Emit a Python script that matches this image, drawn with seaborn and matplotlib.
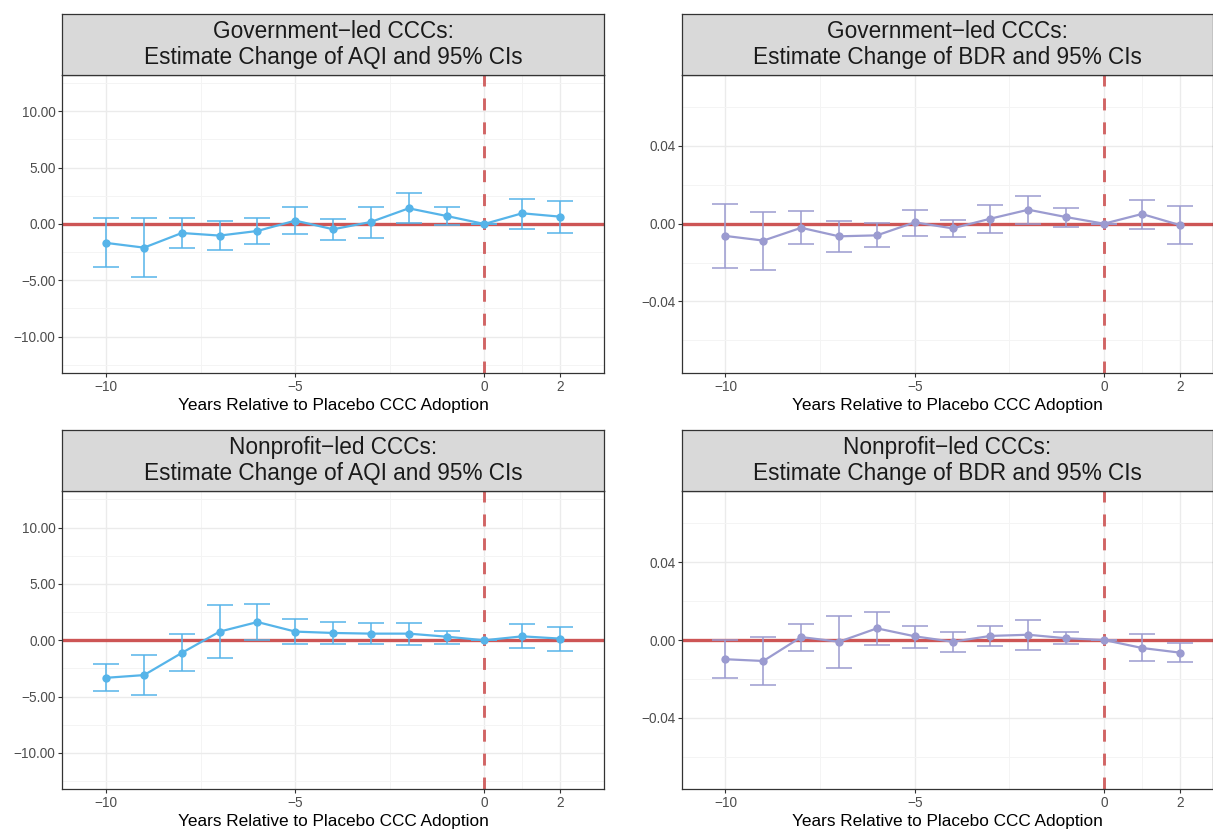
import numpy as np
import pandas as pd
import matplotlib
matplotlib.use("Agg")
import matplotlib.pyplot as plt
from matplotlib.ticker import FixedLocator, FixedFormatter
import seaborn as sns

# Event-time grid
years = [-10, -9, -8, -7, -6, -5, -4, -3, -2, -1, 0, 1, 2]

# Government-led CCCs: AQI
gov_aqi_est = [-1.68, -2.10, -0.80, -1.03, -0.62, 0.30, -0.47, 0.18, 1.39, 0.71, 0.00, 0.95, 0.65]
gov_aqi_lo = [-3.84, -4.70, -2.13, -2.33, -1.80, -0.92, -1.39, -1.21, 0.06, -0.06, 0.00, -0.41, -0.77]
gov_aqi_hi = [0.50, 0.50, 0.53, 0.30, 0.56, 1.51, 0.47, 1.51, 2.72, 1.48, 0.00, 2.25, 2.07]

# Government-led CCCs: BDR
gov_bdr_est = [-0.0063, -0.0087, -0.0021, -0.0065, -0.0060, 0.0007, -0.0024, 0.0026, 0.0072, 0.0034, 0.0000, 0.0050, -0.0007]
gov_bdr_lo = [-0.0226, -0.0236, -0.0106, -0.0146, -0.0122, -0.0065, -0.0070, -0.0046, -0.0002, -0.0015, 0.0000, -0.0026, -0.0103]
gov_bdr_hi = [0.0103, 0.0060, 0.0063, 0.0015, 0.0002, 0.0072, 0.0017, 0.0096, 0.0144, 0.0082, 0.0000, 0.0122, 0.0089]

# Nonprofit-led CCCs: AQI
npo_aqi_est = [-3.33, -3.09, -1.12, 0.77, 1.62, 0.77, 0.65, 0.59, 0.59, 0.32, 0.00, 0.35, 0.15]
npo_aqi_lo = [-4.54, -4.86, -2.77, -1.56, 0.00, -0.32, -0.29, -0.35, -0.44, -0.29, 0.00, -0.71, -0.91]
npo_aqi_hi = [-2.09, -1.30, 0.53, 3.12, 3.24, 1.86, 1.59, 1.50, 1.56, 0.85, 0.00, 1.41, 1.21]

# Nonprofit-led CCCs: BDR
npo_bdr_est = [-0.0099, -0.0108, 0.0015, -0.0009, 0.0060, 0.0019, -0.0009, 0.0021, 0.0027, 0.0009, 0.0000, -0.0041, -0.0065]
npo_bdr_lo = [-0.0194, -0.0230, -0.0055, -0.0144, -0.0027, -0.0039, -0.0062, -0.0033, -0.0050, -0.0022, 0.0000, -0.0110, -0.0115]
npo_bdr_hi = [0.0000, 0.0015, 0.0081, 0.0125, 0.0144, 0.0074, 0.0043, 0.0074, 0.0104, 0.0039, 0.0000, 0.0031, -0.0014]

# Axis breaks and labels
x_breaks = [-10, -5, 0, 2]
x_minor = [-12.5, -7.5, -2.5, 1]
aqi_breaks = [-10.0, -5.0, 0.0, 5.0, 10.0]
aqi_minor = [-12.5, -7.5, -2.5, 2.5, 7.5, 12.5]
bdr_breaks = [-0.04, 0.0, 0.04]
bdr_minor = [-0.06, -0.02, 0.02, 0.06]

panel_titles = [
    "Government\u2212led CCCs:\nEstimate Change of AQI and 95% CIs",
    "Government\u2212led CCCs:\nEstimate Change of BDR and 95% CIs",
    "Nonprofit\u2212led CCCs:\nEstimate Change of AQI and 95% CIs",
    "Nonprofit\u2212led CCCs:\nEstimate Change of BDR and 95% CIs",
]
x_title = "Years Relative to Placebo CCC Adoption"

AQI_COLOR = "#56B4E9"
BDR_COLOR = "#9B9BD0"
REF_COLOR = "#CD5555"
FRAME = "#333333"

sns.set_theme(style="white")
plt.rcParams["font.family"] = ["Liberation Sans", "DejaVu Sans"]

W, H = 1213, 831
fig = plt.figure(figsize=(W / 100, H / 100), dpi=100)


def frac(left, top, right, bottom):
    return [left / W, 1 - bottom / H, (right - left) / W, (bottom - top) / H]


def fmt_tick(v, digits):
    s = f"{v:.{digits}f}"
    return s.replace("-", "\u2212")


panels = [
    # (title, est, lo, hi, color, y breaks, y minor, digits, ylim, xlim, box, strip)
    (panel_titles[0], gov_aqi_est, gov_aqi_lo, gov_aqi_hi, AQI_COLOR, aqi_breaks, aqi_minor, 2,
     (-13.2, 13.25), (-11.16, 3.16), (62.3, 74.7, 603.9, 372.7), (14, 74.7)),
    (panel_titles[1], gov_bdr_est, gov_bdr_lo, gov_bdr_hi, BDR_COLOR, bdr_breaks, bdr_minor, 2,
     (-0.0767, 0.0767), (-11.14, 2.87), (682.3, 74.7, 1212.7, 372.7), (14, 74.7)),
    (panel_titles[2], npo_aqi_est, npo_aqi_lo, npo_aqi_hi, AQI_COLOR, aqi_breaks, aqi_minor, 2,
     (-13.2, 13.25), (-11.16, 3.16), (62.3, 491, 603.9, 789), (429.5, 491)),
    (panel_titles[3], npo_bdr_est, npo_bdr_lo, npo_bdr_hi, BDR_COLOR, bdr_breaks, bdr_minor, 2,
     (-0.0767, 0.0767), (-11.14, 2.87), (682.3, 491, 1212.7, 789), (429.5, 491)),
]

for (title, est, lo, hi, color, yb, ym, dig, ylim, xlim, box, strip) in panels:
    left, top, right, bottom = box
    ax = fig.add_axes(frac(left, top, right, bottom))
    df = pd.DataFrame({"year": years, "est": est, "lo": lo, "hi": hi})

    ax.set_axisbelow(True)
    ax.set_facecolor("white")

    # reference lines
    ax.axhline(0, color=REF_COLOR, lw=2.4, zorder=2)
    ax.axvline(0, color=REF_COLOR, lw=2.1, ls=(0, (4.1, 4.1)), alpha=0.9, zorder=2)

    # confidence intervals
    est_a = df["est"].to_numpy()
    yerr = np.vstack([est_a - df["lo"].to_numpy(), df["hi"].to_numpy() - est_a])
    ax.errorbar(df["year"], df["est"], yerr=yerr, fmt="none", ecolor=color,
                elinewidth=1.1, capsize=9.5, capthick=1.1, zorder=3)

    # point estimates
    sns.lineplot(data=df, x="year", y="est", ax=ax, color=color, lw=1.6,
                 marker="o", markersize=6, markeredgewidth=0, zorder=4)

    ax.set_xlim(*xlim)
    ax.set_ylim(*ylim)

    ax.xaxis.set_major_locator(FixedLocator(x_breaks))
    ax.xaxis.set_major_formatter(FixedFormatter([fmt_tick(v, 0) for v in x_breaks]))
    ax.xaxis.set_minor_locator(FixedLocator(x_minor))
    ax.yaxis.set_major_locator(FixedLocator(yb))
    ax.yaxis.set_major_formatter(FixedFormatter([fmt_tick(v, dig) for v in yb]))
    ax.yaxis.set_minor_locator(FixedLocator(ym))

    ax.grid(which="major", color="#EBEBEB", lw=1.0)
    ax.grid(which="minor", color="#F4F4F4", lw=0.7)

    ax.tick_params(which="major", direction="out", length=3, width=0.8, color=FRAME,
                   labelsize=9.8, labelcolor="#4D4D4D", pad=2, bottom=True, left=True)
    ax.tick_params(which="minor", length=0)

    for sp in ax.spines.values():
        sp.set_color(FRAME)
        sp.set_linewidth(0.9)

    ax.set_ylabel("")
    ax.set_xlabel(x_title, fontsize=12.4, color="black", labelpad=3)

    # facet strip
    sax = fig.add_axes(frac(left, strip[0], right, strip[1]))
    sax.set_facecolor("#D9D9D9")
    sax.set_xticks([])
    sax.set_yticks([])
    for sp in sax.spines.values():
        sp.set_color(FRAME)
        sp.set_linewidth(0.9)
    sax.text(0.5, 0.5, title, ha="center", va="center", fontsize=16.3,
             color="#1A1A1A", linespacing=1.16, transform=sax.transAxes)

fig.savefig("out.png", dpi=100)
